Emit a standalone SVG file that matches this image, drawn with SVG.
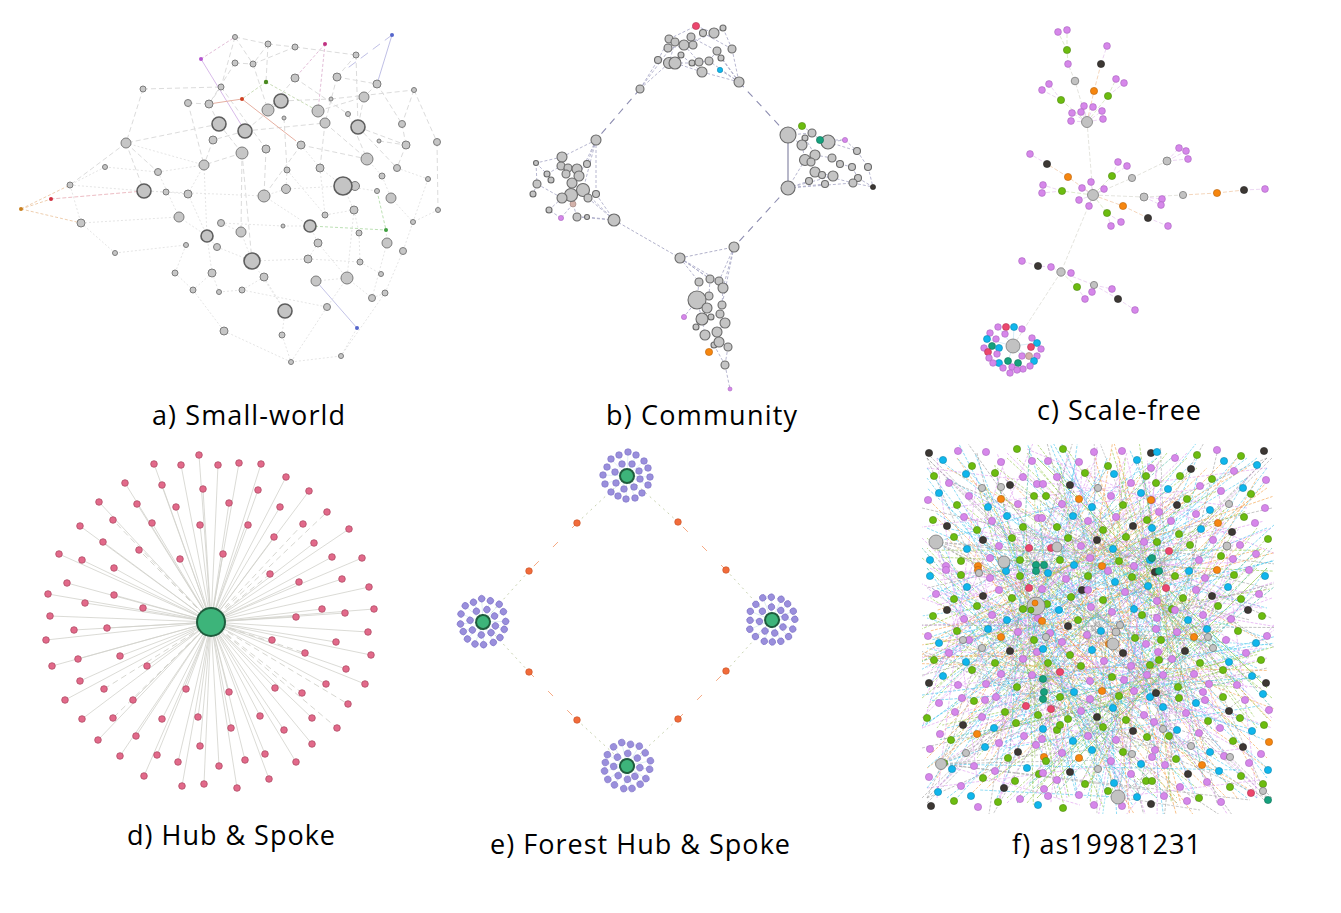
<svg xmlns="http://www.w3.org/2000/svg" xmlns:xlink="http://www.w3.org/1999/xlink" width="1341" height="913" viewBox="0 0 1341 913">
<style>
.lbl{font-family:"Open Sans","Liberation Sans",sans-serif;font-size:27px;fill:#000}
.an{fill:#c6c6c6;stroke:#7c7c7c;stroke-width:1}
.ab{fill:#c4c4c4;stroke:#5e5e5e;stroke-width:1.6}
.ae{fill:none;stroke:#dcdcdc;stroke-width:1;stroke-dasharray:5 3}
.ae2{fill:none;stroke:#e2e2e2;stroke-width:.9;stroke-dasharray:2 2}
.bn{fill:#c4c4c4;stroke:#6a6a6a;stroke-width:1.1}
.be{fill:none;stroke:#a4a4c4;stroke-width:.8;stroke-dasharray:3 2}
.bb{fill:none;stroke:#8c8cb0;stroke-width:1.1;stroke-dasharray:7 6}
.ce{fill:none;stroke-width:1;stroke-dasharray:4 2;stroke-opacity:.7}
.dn{fill:#e2698a;stroke:#b04c66;stroke-width:.8}
.de{fill:none;stroke:#d2d2cb;stroke-width:.8}
.de2{fill:none;stroke:#cbcbc4;stroke-width:.8;stroke-dasharray:6 4}
.hub{fill:#3db47a;stroke:#1f5c3d;stroke-width:2}
.sat{fill:#9a8fdc;stroke:#7b70c4;stroke-width:.6}
.on{fill:#f26b3a;stroke:#c24f24;stroke-width:.6}
.p{fill:#d687ea;stroke:#a866bd;stroke-width:.6}
.g{fill:#6cbc10;stroke:#4d880b;stroke-width:.6}
.c{fill:#10b6ec;stroke:#0c86ad;stroke-width:.6}
.k{fill:#3d3834;stroke:#222;stroke-width:.6}
.s{fill:#c2c2c2;stroke:#7a7a7a;stroke-width:.8}
.o{fill:#f6860f;stroke:#b8620a;stroke-width:.6}
.r{fill:#ec476e;stroke:#b03250;stroke-width:.6}
.t{fill:#16a17d;stroke:#0e6e55;stroke-width:.6}
.n{fill:#d3b2aa;stroke:#9a807a;stroke-width:.6}
.fe{fill:none;stroke-width:.7;stroke-dasharray:3 1.5;stroke-opacity:.8}
.ec{stroke:#3cc2ec}.ep{stroke:#dc94ee}.eo{stroke:#f49c40}.eg{stroke:#8cc63f}.ek{stroke:#9a9a9a}.et{stroke:#3cb39a}
</style>
<defs>
<clipPath id="fclip"><rect x="922" y="444" width="352" height="370"/></clipPath>
<g id="clu">
<path d="M0 0 23 1M0 0 21 9M0 0 15 17M0 0 8 22M0 0-1 23M0 0-9 20M0 0-16 16M0 0-22 8M0 0-24-1M0 0-20-9M0 0-16-17M0 0-8-21M0 0 1-24M0 0 9-21M0 0 17-15M0 0 21-8" fill="none" stroke="#cfe6ec" stroke-width=".6"/>
<circle class="sat" cx="23" cy="1" r="3.3"/><circle class="sat" cx="21" cy="9" r="3.3"/><circle class="sat" cx="15" cy="17" r="3.3"/><circle class="sat" cx="8" cy="22" r="3.3"/><circle class="sat" cx="-1" cy="23" r="3.3"/><circle class="sat" cx="-9" cy="20" r="3.3"/><circle class="sat" cx="-16" cy="16" r="3.3"/><circle class="sat" cx="-22" cy="8" r="3.3"/><circle class="sat" cx="-24" cy="-1" r="3.3"/><circle class="sat" cx="-20" cy="-9" r="3.3"/><circle class="sat" cx="-16" cy="-17" r="3.3"/><circle class="sat" cx="-8" cy="-21" r="3.3"/><circle class="sat" cx="1" cy="-24" r="3.3"/><circle class="sat" cx="9" cy="-21" r="3.3"/><circle class="sat" cx="17" cy="-15" r="3.3"/><circle class="sat" cx="21" cy="-8" r="3.3"/>
<circle class="sat" cx="13" cy="3" r="3.3"/><circle class="sat" cx="7" cy="11" r="3.3"/><circle class="sat" cx="-3" cy="13" r="3.3"/><circle class="sat" cx="-11" cy="7" r="3.3"/><circle class="sat" cx="-12" cy="-4" r="3.3"/><circle class="sat" cx="-5" cy="-12" r="3.3"/><circle class="sat" cx="5" cy="-12" r="3.3"/><circle class="sat" cx="12" cy="-5" r="3.3"/>
<circle class="hub" cx="0" cy="0" r="7"/>
</g>
<g id="fe">
<line class="fe ec" x1="-160" y1="-170" x2="120" y2="40"/><line class="fe ep" x1="-150" y1="-120" x2="170" y2="-160"/><line class="fe eg" x1="-170" y1="-60" x2="60" y2="170"/><line class="fe ek" x1="-120" y1="-175" x2="-40" y2="170"/><line class="fe eo" x1="-90" y1="-150" x2="160" y2="110"/><line class="fe ec" x1="-60" y1="-170" x2="150" y2="-20"/><line class="fe ep" x1="-165" y1="20" x2="165" y2="60"/><line class="fe eg" x1="-140" y1="100" x2="130" y2="-120"/><line class="fe ec" x1="-100" y1="170" x2="40" y2="-160"/><line class="fe ep" x1="-30" y1="-175" x2="100" y2="175"/><line class="fe eo" x1="10" y1="-160" x2="-160" y2="150"/><line class="fe ek" x1="40" y1="-130" x2="170" y2="170"/><line class="fe eg" x1="70" y1="-175" x2="-120" y2="60"/><line class="fe ec" x1="100" y1="-150" x2="20" y2="170"/><line class="fe ep" x1="130" y1="-100" x2="-170" y2="-30"/><line class="fe et" x1="165" y1="-40" x2="-80" y2="175"/><line class="fe ec" x1="150" y1="30" x2="-150" y2="-150"/><line class="fe ep" x1="120" y1="90" x2="-110" y2="120"/><line class="fe eg" x1="60" y1="160" x2="-170" y2="-90"/><line class="fe eo" x1="0" y1="-40" x2="170" y2="130"/><line class="fe ec" x1="-50" y1="40" x2="140" y2="-170"/><line class="fe ep" x1="-130" y1="-30" x2="40" y2="-120"/><line class="fe ek" x1="-80" y1="-100" x2="80" y2="90"/><line class="fe eg" x1="-20" y1="120" x2="170" y2="-80"/><line class="fe ec" x1="20" y1="40" x2="-150" y2="170"/><line class="fe ep" x1="90" y1="20" x2="-40" y2="-170"/><line class="fe eo" x1="-170" y1="140" x2="110" y2="-60"/><line class="fe ec" x1="-110" y1="-80" x2="170" y2="10"/><line class="fe eg" x1="-40" y1="-60" x2="-160" y2="100"/><line class="fe ep" x1="160" y1="160" x2="-60" y2="-40"/><line class="fe ek" x1="-170" y1="-170" x2="170" y2="175"/><line class="fe ep" x1="-150" y1="60" x2="90" y2="-175"/>
</g>
<g id="ft">
<circle class="k" cx="4" cy="6" r="3.6"/><circle class="c" cx="18" cy="13" r="3.6"/><circle class="p" cx="33" cy="4" r="3.6"/><circle class="g" cx="47" cy="19" r="3.6"/><circle class="p" cx="61" cy="5" r="3.6"/><circle class="p" cx="76" cy="15" r="3.6"/><circle class="g" cx="92" cy="2" r="3.6"/><circle class="p" cx="107" cy="14" r="3.6"/>
<circle class="g" cx="9" cy="29" r="3.6"/><circle class="p" cx="24" cy="36" r="3.6"/><circle class="c" cx="41" cy="27" r="3.6"/><circle class="s" cx="57" cy="41" r="3.6"/><circle class="g" cx="70" cy="26" r="3.6"/><circle class="k" cx="85" cy="38" r="3.6"/><circle class="p" cx="98" cy="30" r="3.6"/><circle class="p" cx="112" cy="37" r="3.6"/>
<circle class="p" cx="3" cy="53" r="3.6"/><circle class="c" cx="14" cy="46" r="3.6"/><circle class="g" cx="32" cy="58" r="3.6"/><circle class="p" cx="44" cy="49" r="3.6"/><circle class="c" cx="63" cy="60" r="3.6"/><circle class="o" cx="76" cy="52" r="3.6"/><circle class="p" cx="93" cy="57" r="3.6"/><circle class="g" cx="109" cy="49" r="3.6"/>
<circle class="g" cx="8" cy="73" r="3.6"/><circle class="k" cx="22" cy="79" r="3.6"/><circle class="p" cx="39" cy="70" r="3.6"/><circle class="g" cx="52" cy="83" r="3.6"/><circle class="p" cx="67" cy="74" r="3.6"/><circle class="c" cx="82" cy="69" r="3.6"/><circle class="g" cx="98" cy="80" r="3.6"/><circle class="p" cx="113" cy="71" r="3.6"/>
<circle class="p" cx="11" cy="95" r="3.6"/><circle class="g" cx="29" cy="90" r="3.6"/><circle class="c" cx="42" cy="102" r="3.6"/><circle class="k" cx="58" cy="93" r="3.6"/><circle class="p" cx="74" cy="99" r="3.6"/><circle class="g" cx="87" cy="91" r="3.6"/><circle class="r" cx="104" cy="101" r="3.6"/>
<circle class="c" cx="5" cy="113" r="3.6"/><circle class="p" cx="21" cy="119" r="3.6"/><circle class="g" cx="36" cy="114" r="3.6"/><circle class="o" cx="53" cy="119" r="3.6"/><circle class="p" cx="65" cy="111" r="3.6"/><circle class="c" cx="81" cy="118" r="3.6"/><circle class="g" cx="95" cy="113" r="3.6"/><circle class="t" cx="111" cy="118" r="3.6"/>
</g>
</defs>
<rect width="1341" height="913" fill="#ffffff"/>

<!-- Panel a: Small-world -->
<g id="connectors-a">
<path class="ae" d="M235 37 268 44M235 37 221 87M235 37 253 64M268 44 295 47M268 44 266 82M268 44 253 64M295 47 356 55M295 47 253 64M356 55 358 127M356 55 337 77M235 63 209 104M235 63 253 64M253 64 268 110M295 78 268 110M295 78 348 114M337 77 377 84M337 77 325 123M377 84 364 97M377 84 402 124M143 89 221 87M143 89 126 143M221 87 209 104M221 87 266 149M188 103 209 104M188 103 204 165M209 104 219 124M281 101 268 110M281 101 331 99M281 101 245 131M318 111 325 123M318 111 364 97M331 99 414 90M364 97 358 127M414 90 402 124M414 90 437 142M284 118 287 170M348 114 367 159M219 124 126 143M219 124 242 153M245 131 325 123M245 131 213 140M325 123 367 159M325 123 320 168M358 127 406 145M358 127 397 168M402 124 406 145M126 143 70 185M126 143 158 172M126 143 144 191M213 140 204 165M301 145 367 159M301 145 264 196M266 149 264 196M242 153 204 165M242 153 252 261M242 153 241 232M379 141 406 145M406 145 397 168M437 142 438 210"/>
<path class="ae2" d="M105 167 158 172M105 167 70 185M158 172 204 165M158 172 179 217M204 165 188 194M204 165 207 236M287 170 286 189M287 170 325 215M320 168 325 215M320 168 343 186M367 159 382 176M397 168 428 179M382 176 391 198M428 179 413 222M70 185 81 223M70 185 144 191M144 191 166 192M144 191 264 196M166 192 188 194M188 194 207 236M264 196 286 189M264 196 310 226M286 189 343 186M343 186 377 191M343 186 354 210M391 198 413 222M81 223 179 217M81 223 115 253M179 217 207 236M325 215 354 210M354 210 359 233M354 210 347 278M438 210 413 222M221 223 241 232M221 223 283 226M283 226 310 226M310 226 318 243M386 230 387 243M359 233 360 262M413 222 403 251M207 236 217 247M207 236 212 273M241 232 252 261M217 247 252 261M318 243 347 278M318 243 308 259M387 243 372 298M403 251 385 293M115 253 186 245M186 245 175 273M252 261 308 259M252 261 285 311M308 259 360 262M360 262 381 274M175 273 193 290M212 273 193 290M212 273 219 292M264 277 242 290M264 277 285 311M316 281 347 278M347 278 372 298M347 278 327 307M193 290 224 331M219 292 242 290M242 290 327 307M327 307 291 362M285 311 282 335M224 331 291 362M282 335 291 362M291 362 341 356M372 298 385 293M385 293 341 356M357 328 341 356M126 143 204 165M301 145 320 168"/>
<path d="M201 59 235 37M325 44 295 78M325 44 318 111" fill="none" stroke="#dfb6d2" stroke-width=".9" stroke-dasharray="3 2"/>
<path d="M201 59 245 131" fill="none" stroke="#d4b2e6" stroke-width=".9"/>
<path d="M392 35 377 84" fill="none" stroke="#b8b8e2" stroke-width=".9"/>
<path d="M392 35 345 70" fill="none" stroke="#b8b8e2" stroke-width=".9" stroke-dasharray="9 6"/>
<path d="M266 82 318 111M266 82 242 99" fill="none" stroke="#c4d8b0" stroke-width=".9" stroke-dasharray="3 2"/>
<path d="M242 99 209 104M242 99 296 141" fill="none" stroke="#e6b0a2" stroke-width="1"/>
<path d="M144 191 51 199" fill="none" stroke="#eab4bc" stroke-width=".9" stroke-dasharray="4 2"/>
<path d="M21 209 70 185M21 209 51 199M21 209 81 223" fill="none" stroke="#ecc8a6" stroke-width=".9" stroke-dasharray="3 2"/>
<path d="M377 191 386 230M310 226 386 230" fill="none" stroke="#b4dcac" stroke-width=".9" stroke-dasharray="3 2"/>
<path d="M316 281 357 328" fill="none" stroke="#bcbce4" stroke-width=".9"/>
</g>
<g id="nodes-a">
<circle class="an" cx="235" cy="37" r="2.5"/><circle cx="392" cy="35" r="2" fill="#5566cc"/><circle cx="201" cy="59" r="2" fill="#b455d0"/><circle cx="325" cy="44" r="2" fill="#c03080"/>
<circle class="an" cx="268" cy="44" r="3"/><circle class="an" cx="295" cy="47" r="3"/><circle class="an" cx="356" cy="55" r="3"/><circle class="an" cx="235" cy="63" r="3"/><circle class="an" cx="253" cy="64" r="3"/><circle cx="266" cy="82" r="2.2" fill="#4a8a20"/>
<circle class="an" cx="295" cy="78" r="4"/><circle class="an" cx="337" cy="77" r="4"/><circle class="an" cx="377" cy="84" r="4"/><circle class="an" cx="143" cy="89" r="3"/><circle class="an" cx="221" cy="87" r="3"/><circle cx="242" cy="99" r="2" fill="#d04020"/>
<circle class="an" cx="188" cy="103" r="3.5"/><circle class="an" cx="209" cy="104" r="4"/><circle class="ab" cx="281" cy="101" r="7"/><circle class="an" cx="268" cy="110" r="6"/><circle class="an" cx="318" cy="111" r="6"/><circle class="an" cx="331" cy="99" r="2"/><circle class="an" cx="364" cy="97" r="5"/><circle class="an" cx="414" cy="90" r="2.5"/><circle class="an" cx="284" cy="118" r="2"/><circle class="an" cx="348" cy="114" r="2.5"/>
<circle class="ab" cx="219" cy="124" r="7"/><circle class="ab" cx="245" cy="131" r="7"/><circle class="an" cx="325" cy="123" r="5"/><circle class="ab" cx="358" cy="127" r="7"/><circle class="an" cx="402" cy="124" r="3.5"/><circle class="an" cx="126" cy="143" r="5"/><circle class="an" cx="213" cy="140" r="4"/><circle class="an" cx="301" cy="145" r="4"/><circle class="an" cx="266" cy="149" r="4"/><circle class="an" cx="242" cy="153" r="6"/><circle class="an" cx="379" cy="141" r="2"/><circle class="an" cx="406" cy="145" r="4"/><circle class="an" cx="437" cy="142" r="3.5"/>
<circle class="an" cx="105" cy="167" r="2.5"/><circle class="an" cx="158" cy="172" r="3.5"/><circle class="an" cx="204" cy="165" r="5"/><circle class="an" cx="287" cy="170" r="3"/><circle class="an" cx="320" cy="168" r="4"/><circle class="an" cx="367" cy="159" r="6"/><circle class="an" cx="397" cy="168" r="3.5"/><circle class="an" cx="382" cy="176" r="3"/><circle class="an" cx="428" cy="179" r="2.5"/>
<circle class="an" cx="70" cy="185" r="3"/><circle class="ab" cx="144" cy="191" r="7"/><circle class="an" cx="166" cy="192" r="3"/><circle class="an" cx="188" cy="194" r="4"/><circle class="an" cx="264" cy="196" r="6"/><circle class="an" cx="286" cy="189" r="4.5"/><circle class="an" cx="355" cy="186" r="4.5"/><circle class="ab" cx="343" cy="186" r="9"/><circle class="an" cx="377" cy="191" r="2.5"/><circle class="an" cx="391" cy="198" r="5"/><circle cx="51" cy="199" r="2" fill="#d03040"/><circle cx="21" cy="209" r="2" fill="#c88020"/>
<circle class="an" cx="81" cy="223" r="4"/><circle class="an" cx="179" cy="217" r="5"/><circle class="an" cx="325" cy="215" r="3"/><circle class="an" cx="354" cy="210" r="4"/><circle class="an" cx="438" cy="210" r="2.5"/><circle class="an" cx="221" cy="223" r="3.5"/><circle class="an" cx="283" cy="226" r="2"/><circle class="ab" cx="310" cy="226" r="6"/><circle cx="386" cy="230" r="2" fill="#40a040"/><circle class="an" cx="359" cy="233" r="3"/><circle class="an" cx="413" cy="222" r="2.5"/>
<circle class="ab" cx="207" cy="236" r="6"/><circle class="an" cx="241" cy="232" r="5"/><circle class="an" cx="217" cy="247" r="3.5"/><circle class="an" cx="318" cy="243" r="4"/><circle class="an" cx="387" cy="243" r="5"/><circle class="an" cx="403" cy="251" r="3.5"/><circle class="an" cx="115" cy="253" r="2.5"/><circle class="an" cx="186" cy="245" r="2.5"/>
<circle class="ab" cx="252" cy="261" r="8"/><circle class="an" cx="308" cy="259" r="4"/><circle class="an" cx="360" cy="262" r="3"/><circle class="an" cx="175" cy="273" r="3"/><circle class="an" cx="212" cy="273" r="4"/><circle class="an" cx="264" cy="277" r="4"/><circle class="an" cx="316" cy="281" r="5"/><circle class="an" cx="347" cy="278" r="6"/><circle class="an" cx="381" cy="274" r="2.5"/>
<circle class="an" cx="193" cy="290" r="3"/><circle class="an" cx="219" cy="292" r="2.5"/><circle class="an" cx="242" cy="290" r="3"/><circle class="an" cx="372" cy="298" r="3.5"/><circle class="an" cx="385" cy="293" r="3"/><circle class="an" cx="327" cy="307" r="3.5"/><circle class="ab" cx="285" cy="311" r="7"/><circle cx="357" cy="328" r="2" fill="#5566cc"/><circle class="an" cx="224" cy="331" r="4"/><circle class="an" cx="282" cy="335" r="3"/><circle class="an" cx="341" cy="356" r="2.5"/><circle class="an" cx="291" cy="362" r="2.5"/>
</g>

<!-- Panel b: Community -->
<g id="connectors-b">
<path class="be" d="M640 89 658 60M640 89 669 63M640 89 675 42M658 60 669 39M669 39 696 26M696 26 714 33M714 33 723 28M723 28 732 49M732 49 739 82M739 82 721 58M739 82 702 72M739 82 709 61M739 82 717 51M702 72 675 63M675 63 692 63M692 63 709 61M709 61 717 51M684 45 714 33M684 45 699 62M668 48 693 45M681 55 702 72M720 70 739 82M703 33 732 49M691 37 717 51M675 42 669 63M669 39 668 48M723 28 714 33M658 60 675 63
M788 135 802 145M788 135 812 133M802 126 812 133M812 133 820 140M820 140 845 140M828 142 857 151M845 140 857 151M857 151 868 167M868 167 873 187M853 183 873 187M858 178 873 187M852 167 858 178M840 164 852 167M832 158 840 164M805 160 788 188M788 188 809 181M788 188 825 184M788 188 833 176M788 188 853 183M815 172 833 176M815 155 832 158M802 145 805 160M811 162 815 172M822 175 853 183M828 142 845 140M802 126 788 135M805 138 815 155
M596 140 562 157M596 140 587 164M596 140 583 190M596 140 579 176M562 157 536 163M536 163 537 184M537 184 533 194M536 163 547 174M547 174 551 180M561 166 568 168M568 168 577 169M577 169 579 176M579 176 572 183M572 183 583 190M583 190 588 198M571 195 562 198M571 195 573 204M573 204 561 218M561 218 549 210M573 204 577 217M577 217 587 217M587 217 614 220M577 217 614 220M596 194 614 220M583 190 614 220M588 198 614 220M562 198 549 210M547 174 561 166M537 184 562 198M596 140 596 194
M680 258 699 282M680 258 710 279M680 258 719 281M680 258 723 288M734 247 719 281M734 247 723 288M734 247 722 305M699 282 697 300M710 279 709 296M719 281 723 288M723 288 722 305M697 300 702 319M697 300 684 317M707 308 702 319M702 319 696 327M702 319 705 335M720 314 725 323M725 323 717 332M717 332 719 342M719 342 714 345M719 342 728 347M709 352 714 345M714 345 725 365M725 365 730 389M728 347 725 365M711 317 720 314"/>
<path class="bb" d="M640 89 596 140M739 82 788 135M788 188 734 247"/>
<path d="M614 220 680 258M680 258 734 247" fill="none" stroke="#a8a8c4" stroke-width=".9" stroke-dasharray="3 2"/>
<path d="M788 135 788 188" fill="none" stroke="#9a9ab4" stroke-width="1.4"/>
</g>
<g id="nodes-b">
<circle class="bn" cx="723" cy="28" r="3"/><circle class="bn" cx="703" cy="33" r="3.5"/><circle class="bn" cx="714" cy="33" r="5"/><circle class="bn" cx="669" cy="39" r="4"/><circle class="bn" cx="691" cy="37" r="4"/><circle class="bn" cx="675" cy="42" r="4"/><circle class="bn" cx="684" cy="45" r="5"/><circle class="bn" cx="693" cy="45" r="4"/><circle class="bn" cx="668" cy="48" r="4"/><circle class="bn" cx="717" cy="51" r="4"/><circle class="bn" cx="732" cy="49" r="4"/><circle class="bn" cx="681" cy="55" r="3"/><circle class="bn" cx="658" cy="60" r="3.5"/><circle class="bn" cx="669" cy="63" r="5.5"/><circle class="bn" cx="675" cy="63" r="6"/><circle class="bn" cx="692" cy="63" r="3"/><circle class="bn" cx="699" cy="62" r="4"/><circle class="bn" cx="709" cy="61" r="4"/><circle class="bn" cx="721" cy="58" r="3"/><circle class="c" cx="720" cy="70" r="2.7"/><circle class="bn" cx="702" cy="72" r="5"/><circle class="bn" cx="739" cy="82" r="5"/><circle class="bn" cx="640" cy="89" r="4"/><circle class="r" cx="696" cy="26" r="3.6"/>
<circle class="bn" cx="788" cy="135" r="8"/><circle class="g" cx="802" cy="126" r="3.6"/><circle class="bn" cx="812" cy="133" r="4"/><circle class="bn" cx="805" cy="138" r="3"/><circle class="bn" cx="802" cy="145" r="5"/><circle class="bn" cx="828" cy="142" r="7"/><circle class="t" cx="820" cy="140" r="3.6"/><circle class="p" cx="845" cy="140" r="2.6"/><circle class="bn" cx="857" cy="151" r="3.5"/><circle class="bn" cx="815" cy="155" r="5"/><circle class="bn" cx="805" cy="160" r="5.5"/><circle class="bn" cx="811" cy="162" r="4"/><circle class="bn" cx="832" cy="158" r="4"/><circle class="bn" cx="840" cy="164" r="3.5"/><circle class="bn" cx="852" cy="167" r="3.5"/><circle class="bn" cx="868" cy="167" r="3.5"/><circle class="bn" cx="815" cy="172" r="5"/><circle class="bn" cx="822" cy="175" r="3.5"/><circle class="bn" cx="833" cy="176" r="5"/><circle class="bn" cx="858" cy="178" r="3.5"/><circle class="bn" cx="809" cy="181" r="3.5"/><circle class="bn" cx="825" cy="184" r="3.5"/><circle class="bn" cx="853" cy="183" r="4"/><circle class="k" cx="873" cy="187" r="2.6"/><circle class="bn" cx="788" cy="188" r="7"/>
<circle class="bn" cx="596" cy="140" r="5"/><circle class="bn" cx="562" cy="157" r="5"/><circle class="bn" cx="536" cy="163" r="2.5"/><circle class="bn" cx="561" cy="166" r="4"/><circle class="bn" cx="568" cy="168" r="4"/><circle class="bn" cx="577" cy="169" r="5"/><circle class="bn" cx="587" cy="164" r="3.5"/><circle class="bn" cx="547" cy="174" r="3"/><circle class="bn" cx="551" cy="180" r="3"/><circle class="bn" cx="566" cy="174" r="4"/><circle class="bn" cx="579" cy="176" r="5"/><circle class="bn" cx="572" cy="183" r="5"/><circle class="bn" cx="537" cy="184" r="4"/><circle class="n" cx="573" cy="204" r="3"/><circle class="bn" cx="583" cy="190" r="6.5"/><circle class="bn" cx="571" cy="195" r="6.5"/><circle class="bn" cx="562" cy="198" r="5"/><circle class="bn" cx="588" cy="198" r="4"/><circle class="bn" cx="596" cy="194" r="3.5"/><circle class="bn" cx="533" cy="194" r="3"/><circle class="bn" cx="549" cy="210" r="3"/><circle class="p" cx="561" cy="218" r="2.6"/><circle class="bn" cx="577" cy="217" r="4"/><circle class="bn" cx="587" cy="217" r="2.5"/><circle class="bn" cx="614" cy="220" r="6"/>
<circle class="bn" cx="680" cy="258" r="5"/><circle class="bn" cx="734" cy="247" r="5"/><circle class="bn" cx="699" cy="282" r="4"/><circle class="bn" cx="710" cy="279" r="4"/><circle class="bn" cx="719" cy="281" r="4"/><circle class="bn" cx="723" cy="288" r="5"/><circle class="bn" cx="709" cy="296" r="4"/><circle class="bn" cx="697" cy="300" r="9"/><circle class="bn" cx="722" cy="305" r="4"/><circle class="bn" cx="707" cy="308" r="5"/><circle class="bn" cx="720" cy="314" r="4"/><circle class="p" cx="684" cy="317" r="2.6"/><circle class="bn" cx="711" cy="317" r="3"/><circle class="bn" cx="702" cy="319" r="6"/><circle class="bn" cx="725" cy="323" r="5"/><circle class="bn" cx="696" cy="327" r="3"/><circle class="bn" cx="705" cy="335" r="5"/><circle class="bn" cx="717" cy="332" r="5"/><circle class="bn" cx="714" cy="345" r="3"/><circle class="bn" cx="719" cy="342" r="5"/><circle class="bn" cx="728" cy="347" r="4"/><circle class="o" cx="709" cy="352" r="3.6"/><circle class="bn" cx="725" cy="365" r="4"/><circle class="p" cx="730" cy="389" r="2"/>
</g>

<!-- Panel c: Scale-free -->
<g id="connectors-c">
<path class="ce" stroke="#d8d8d0" d="M1087 122 1093 195M1093 195 1061 272M1061 272 1013 346M1087 122 1075 81M1075 81 1068 64M1093 195 1132 178M1132 178 1167 161M1093 195 1144 197M1144 197 1183 195"/>
<path class="ce" stroke="#cfe0b8" d="M1068 64 1067 50M1067 50 1058 32M1067 50 1067 30M1087 122 1061 100M1087 122 1108 96M1093 195 1062 191M1093 195 1112 176M1093 195 1107 213M1061 272 1077 287M1108 96 1116 79"/>
<path class="ce" stroke="#f0c4a0" d="M1087 122 1094 91M1094 91 1101 64M1093 195 1068 177M1068 177 1047 164M1093 195 1123 206M1123 206 1148 218M1183 195 1217 193M1217 193 1244 190"/>
<path class="ce" stroke="#e4c4ee" d="M1101 64 1107 46M1108 96 1124 83M1061 100 1049 84M1061 100 1042 90M1087 122 1084 106M1087 122 1093 107M1087 122 1072 113M1087 122 1081 112M1087 122 1102 111M1087 122 1071 121M1087 122 1103 119M1047 164 1030 154M1062 191 1043 185M1062 191 1042 193M1093 195 1082 188M1093 195 1091 182M1093 195 1104 189M1093 195 1079 200M1093 195 1089 206M1112 176 1118 162M1112 176 1127 166M1167 161 1179 148M1167 161 1186 151M1167 161 1188 159M1144 197 1162 199M1144 197 1161 205M1244 190 1265 189M1148 218 1168 226M1107 213 1111 226M1107 213 1121 222M1061 272 1051 267M1051 267 1038 266M1038 266 1022 261M1061 272 1071 273M1061 272 1094 285M1094 285 1118 299M1118 299 1135 310M1077 287 1085 299M1094 285 1092 292M1094 285 1112 289"/>
<path d="M1013 346 998 327M1013 346 1014 327M1013 346 987 339M1013 346 1037 343M1013 346 1022 356M1013 346 1008 361M1013 346 1029 356" fill="none" stroke="#cfe8f4" stroke-width=".8"/>
</g>
<g id="nodes-c">
<circle class="p" cx="1058" cy="32" r="3.4"/><circle class="p" cx="1067" cy="30" r="3.4"/><circle class="g" cx="1067" cy="50" r="3.6"/><circle class="p" cx="1107" cy="46" r="3.4"/><circle class="k" cx="1101" cy="64" r="3.6"/><circle class="p" cx="1068" cy="64" r="3.4"/><circle class="s" cx="1075" cy="81" r="3.8"/><circle class="p" cx="1116" cy="79" r="3.4"/><circle class="p" cx="1124" cy="83" r="3.4"/><circle class="o" cx="1094" cy="91" r="3.6"/><circle class="p" cx="1049" cy="84" r="3.4"/><circle class="p" cx="1042" cy="90" r="3.4"/><circle class="g" cx="1108" cy="96" r="3.6"/><circle class="g" cx="1061" cy="100" r="3.6"/><circle class="p" cx="1084" cy="106" r="3.4"/><circle class="p" cx="1093" cy="107" r="3.4"/><circle class="p" cx="1072" cy="113" r="3.4"/><circle class="p" cx="1081" cy="112" r="3.4"/><circle class="p" cx="1102" cy="111" r="3.4"/><circle class="p" cx="1071" cy="121" r="3.4"/><circle class="p" cx="1103" cy="119" r="3.4"/><circle class="s" cx="1087" cy="122" r="5.5"/>
<circle class="p" cx="1030" cy="154" r="3.4"/><circle class="k" cx="1047" cy="164" r="3.6"/><circle class="o" cx="1068" cy="177" r="3.6"/><circle class="p" cx="1043" cy="185" r="3.4"/><circle class="p" cx="1042" cy="193" r="3.4"/><circle class="g" cx="1062" cy="191" r="3.6"/><circle class="p" cx="1082" cy="188" r="3.4"/><circle class="p" cx="1091" cy="182" r="3.4"/><circle class="p" cx="1104" cy="189" r="3.4"/><circle class="p" cx="1079" cy="200" r="3.4"/><circle class="p" cx="1089" cy="206" r="3.4"/><circle class="s" cx="1093" cy="195" r="5.5"/><circle class="p" cx="1118" cy="162" r="3.4"/><circle class="p" cx="1127" cy="166" r="3.4"/><circle class="g" cx="1112" cy="176" r="3.6"/><circle class="s" cx="1132" cy="178" r="3.6"/><circle class="s" cx="1167" cy="161" r="4"/><circle class="p" cx="1179" cy="148" r="3.4"/><circle class="p" cx="1186" cy="151" r="3.4"/><circle class="p" cx="1188" cy="159" r="3.4"/><circle class="s" cx="1144" cy="197" r="4"/><circle class="p" cx="1162" cy="199" r="3.4"/><circle class="p" cx="1161" cy="205" r="3.4"/><circle class="s" cx="1183" cy="195" r="3.6"/><circle class="o" cx="1217" cy="193" r="3.6"/><circle class="k" cx="1244" cy="190" r="3.6"/><circle class="p" cx="1265" cy="189" r="3.4"/><circle class="o" cx="1123" cy="206" r="3.6"/><circle class="g" cx="1107" cy="213" r="3.6"/><circle class="k" cx="1148" cy="218" r="3.6"/><circle class="p" cx="1168" cy="226" r="3.4"/><circle class="p" cx="1111" cy="226" r="3.4"/><circle class="p" cx="1121" cy="222" r="3.4"/>
<circle class="p" cx="1022" cy="261" r="3.4"/><circle class="k" cx="1038" cy="266" r="3.6"/><circle class="p" cx="1051" cy="267" r="3.4"/><circle class="s" cx="1061" cy="272" r="4.2"/><circle class="p" cx="1071" cy="273" r="3.4"/><circle class="g" cx="1077" cy="287" r="3.6"/><circle class="s" cx="1094" cy="285" r="3.6"/><circle class="p" cx="1092" cy="292" r="3.4"/><circle class="p" cx="1085" cy="299" r="3.4"/><circle class="p" cx="1112" cy="289" r="3.4"/><circle class="k" cx="1118" cy="299" r="3.6"/><circle class="p" cx="1135" cy="310" r="3.4"/>
<circle class="p" cx="998" cy="327" r="3.3"/><circle class="r" cx="1006" cy="327" r="3.5"/><circle class="c" cx="1014" cy="327" r="3.5"/><circle class="p" cx="1022" cy="329" r="3.3"/><circle class="p" cx="990" cy="333" r="3.3"/><circle class="p" cx="1005" cy="334" r="3.3"/><circle class="c" cx="987" cy="339" r="3.5"/><circle class="p" cx="996" cy="339" r="3.3"/><circle class="t" cx="992" cy="346" r="3.5"/><circle class="c" cx="999" cy="348" r="3.5"/><circle class="p" cx="984" cy="348" r="3.3"/><circle class="r" cx="988" cy="352" r="3.5"/><circle class="p" cx="1032" cy="338" r="3.3"/><circle class="c" cx="1037" cy="343" r="3.5"/><circle class="r" cx="1031" cy="347" r="3.5"/><circle class="p" cx="1041" cy="349" r="3.3"/><circle class="p" cx="997" cy="354" r="3.3"/><circle class="p" cx="1022" cy="356" r="3.3"/><circle class="n" cx="1029" cy="356" r="3.5"/><circle class="p" cx="1037" cy="356" r="3.3"/><circle class="p" cx="989" cy="358" r="3.3"/><circle class="c" cx="1034" cy="361" r="3.5"/><circle class="c" cx="999" cy="363" r="3.5"/><circle class="t" cx="1008" cy="361" r="3.5"/><circle class="t" cx="1018" cy="363" r="3.5"/><circle class="p" cx="993" cy="363" r="3.3"/><circle class="p" cx="1030" cy="366" r="3.3"/><circle class="p" cx="1003" cy="368" r="3.3"/><circle class="p" cx="1012" cy="367" r="3.3"/><circle class="p" cx="1023" cy="369" r="3.3"/><circle class="p" cx="1017" cy="370" r="3.3"/><circle class="p" cx="1010" cy="373" r="3.3"/>
<circle class="s" cx="1013" cy="346" r="7" stroke-width="1.2"/>
</g>

<!-- Panel d: Hub & Spoke -->
<g id="connectors-d">
<path class="de" d="M211 622 199 455M211 622 154 464M211 622 181 465M211 622 218 465M211 622 239 463M211 622 261 464M211 622 286 477M211 622 125 483M211 622 162 485M211 622 203 489M211 622 258 490M211 622 309 491M211 622 99 502M211 622 229 503M211 622 137 504M211 622 176 507M211 622 280 507M211 622 152 523M211 622 200 525M211 622 248 525M211 622 80 526M211 622 349 529M211 622 274 537M211 622 103 542M211 622 314 543M211 622 59 554M211 622 223 554M211 622 82 560M211 622 180 559M211 622 332 557M211 622 362 558M211 622 114 568M211 622 67 583M211 622 299 582M211 622 342 579M211 622 369 587M211 622 48 594M211 622 114 595M211 622 85 603M211 622 143 608M211 622 322 609M211 622 345 613M211 622 374 609M211 622 50 616M211 622 296 617M211 622 74 630M211 622 107 628M211 622 46 640M211 622 272 640M211 622 336 642M211 622 368 632M211 622 371 655M211 622 78 659M211 622 120 656M211 622 147 666M211 622 52 666M211 622 346 669M211 622 80 681M211 622 186 689M211 622 229 692M211 622 275 688M211 622 326 684M211 622 365 684M211 622 65 700M211 622 133 700M211 622 82 719M211 622 162 719M211 622 198 717M211 622 260 716M211 622 312 718M211 622 231 728M211 622 284 730M211 622 98 740M211 622 136 736M211 622 200 746M211 622 265 754M211 622 312 744M211 622 120 756M211 622 157 755M211 622 178 762M211 622 245 760M211 622 296 762M211 622 219 766M211 622 144 776M211 622 182 786M211 622 204 784M211 622 237 788M211 622 269 779"/>
<path class="de2" d="M211 622 113 520M211 622 327 512M211 622 303 524M211 622 270 574M211 622 139 550M211 622 305 653M211 622 104 689M211 622 302 693M211 622 348 704M211 622 113 718M211 622 337 728"/>
</g>
<g id="nodes-d">
<circle class="dn" cx="199" cy="455" r="3.3"/><circle class="dn" cx="154" cy="464" r="3.3"/><circle class="dn" cx="181" cy="465" r="3.3"/><circle class="dn" cx="218" cy="465" r="3.3"/><circle class="dn" cx="239" cy="463" r="3.3"/><circle class="dn" cx="261" cy="464" r="3.3"/><circle class="dn" cx="286" cy="477" r="3.3"/><circle class="dn" cx="125" cy="483" r="3.3"/><circle class="dn" cx="162" cy="485" r="3.3"/><circle class="dn" cx="203" cy="489" r="3.3"/><circle class="dn" cx="258" cy="490" r="3.3"/><circle class="dn" cx="309" cy="491" r="3.3"/><circle class="dn" cx="99" cy="502" r="3.3"/><circle class="dn" cx="229" cy="503" r="3.3"/><circle class="dn" cx="137" cy="504" r="3.3"/><circle class="dn" cx="176" cy="507" r="3.3"/><circle class="dn" cx="280" cy="507" r="3.3"/><circle class="dn" cx="327" cy="512" r="3.3"/><circle class="dn" cx="113" cy="520" r="3.3"/><circle class="dn" cx="152" cy="523" r="3.3"/><circle class="dn" cx="200" cy="525" r="3.3"/><circle class="dn" cx="248" cy="525" r="3.3"/><circle class="dn" cx="303" cy="524" r="3.3"/><circle class="dn" cx="80" cy="526" r="3.3"/><circle class="dn" cx="349" cy="529" r="3.3"/><circle class="dn" cx="274" cy="537" r="3.3"/><circle class="dn" cx="103" cy="542" r="3.3"/><circle class="dn" cx="314" cy="543" r="3.3"/><circle class="dn" cx="139" cy="550" r="3.3"/><circle class="dn" cx="59" cy="554" r="3.3"/><circle class="dn" cx="223" cy="554" r="3.3"/><circle class="dn" cx="82" cy="560" r="3.3"/><circle class="dn" cx="180" cy="559" r="3.3"/><circle class="dn" cx="332" cy="557" r="3.3"/><circle class="dn" cx="362" cy="558" r="3.3"/><circle class="dn" cx="114" cy="568" r="3.3"/><circle class="dn" cx="270" cy="574" r="3.3"/><circle class="dn" cx="67" cy="583" r="3.3"/><circle class="dn" cx="299" cy="582" r="3.3"/><circle class="dn" cx="342" cy="579" r="3.3"/><circle class="dn" cx="369" cy="587" r="3.3"/><circle class="dn" cx="48" cy="594" r="3.3"/><circle class="dn" cx="114" cy="595" r="3.3"/><circle class="dn" cx="85" cy="603" r="3.3"/><circle class="dn" cx="143" cy="608" r="3.3"/><circle class="dn" cx="322" cy="609" r="3.3"/><circle class="dn" cx="345" cy="613" r="3.3"/><circle class="dn" cx="374" cy="609" r="3.3"/><circle class="dn" cx="50" cy="616" r="3.3"/><circle class="dn" cx="296" cy="617" r="3.3"/><circle class="dn" cx="74" cy="630" r="3.3"/><circle class="dn" cx="107" cy="628" r="3.3"/><circle class="dn" cx="46" cy="640" r="3.3"/><circle class="dn" cx="272" cy="640" r="3.3"/><circle class="dn" cx="336" cy="642" r="3.3"/><circle class="dn" cx="368" cy="632" r="3.3"/><circle class="dn" cx="371" cy="655" r="3.3"/><circle class="dn" cx="305" cy="653" r="3.3"/><circle class="dn" cx="78" cy="659" r="3.3"/><circle class="dn" cx="120" cy="656" r="3.3"/><circle class="dn" cx="147" cy="666" r="3.3"/><circle class="dn" cx="52" cy="666" r="3.3"/><circle class="dn" cx="346" cy="669" r="3.3"/><circle class="dn" cx="80" cy="681" r="3.3"/><circle class="dn" cx="104" cy="689" r="3.3"/><circle class="dn" cx="186" cy="689" r="3.3"/><circle class="dn" cx="229" cy="692" r="3.3"/><circle class="dn" cx="275" cy="688" r="3.3"/><circle class="dn" cx="326" cy="684" r="3.3"/><circle class="dn" cx="365" cy="684" r="3.3"/><circle class="dn" cx="65" cy="700" r="3.3"/><circle class="dn" cx="133" cy="700" r="3.3"/><circle class="dn" cx="302" cy="693" r="3.3"/><circle class="dn" cx="348" cy="704" r="3.3"/><circle class="dn" cx="82" cy="719" r="3.3"/><circle class="dn" cx="113" cy="718" r="3.3"/><circle class="dn" cx="162" cy="719" r="3.3"/><circle class="dn" cx="198" cy="717" r="3.3"/><circle class="dn" cx="260" cy="716" r="3.3"/><circle class="dn" cx="312" cy="718" r="3.3"/><circle class="dn" cx="231" cy="728" r="3.3"/><circle class="dn" cx="284" cy="730" r="3.3"/><circle class="dn" cx="337" cy="728" r="3.3"/><circle class="dn" cx="98" cy="740" r="3.3"/><circle class="dn" cx="136" cy="736" r="3.3"/><circle class="dn" cx="200" cy="746" r="3.3"/><circle class="dn" cx="265" cy="754" r="3.3"/><circle class="dn" cx="312" cy="744" r="3.3"/><circle class="dn" cx="120" cy="756" r="3.3"/><circle class="dn" cx="157" cy="755" r="3.3"/><circle class="dn" cx="178" cy="762" r="3.3"/><circle class="dn" cx="245" cy="760" r="3.3"/><circle class="dn" cx="296" cy="762" r="3.3"/><circle class="dn" cx="219" cy="766" r="3.3"/><circle class="dn" cx="144" cy="776" r="3.3"/><circle class="dn" cx="182" cy="786" r="3.3"/><circle class="dn" cx="204" cy="784" r="3.3"/><circle class="dn" cx="237" cy="788" r="3.3"/><circle class="dn" cx="269" cy="779" r="3.3"/>
</g>
<g id="hub-d"><circle class="hub" cx="211" cy="622" r="14" stroke-width="2.5"/></g>

<!-- Panel e: Forest Hub & Spoke -->
<g id="connectors-e">
<path d="M627 476 577 523M529 571 483 622M483 622 529 672M577 720 627 766M627 766 678 719M726 671 772 620M772 620 726 570M678 522 627 476" fill="none" stroke="#c8d2b0" stroke-width="1" stroke-dasharray="2 4"/>
<path d="M577 523 529 571M529 672 577 720M678 719 726 671M726 570 678 522" fill="none" stroke="#f6a882" stroke-width="1" stroke-dasharray="7 20"/>
</g>
<g id="nodes-e">
<circle class="on" cx="577" cy="523" r="3.3"/><circle class="on" cx="678" cy="522" r="3.3"/><circle class="on" cx="529" cy="571" r="3.3"/><circle class="on" cx="726" cy="570" r="3.3"/><circle class="on" cx="529" cy="672" r="3.3"/><circle class="on" cx="726" cy="671" r="3.3"/><circle class="on" cx="577" cy="720" r="3.3"/><circle class="on" cx="678" cy="719" r="3.3"/>
</g>
<g id="cluster-e1"><use xlink:href="#clu" transform="translate(627,476)"/></g>
<g id="cluster-e2"><use xlink:href="#clu" transform="translate(483,622) rotate(40)"/></g>
<g id="cluster-e3"><use xlink:href="#clu" transform="translate(772,620) rotate(-25)"/></g>
<g id="cluster-e4"><use xlink:href="#clu" transform="translate(627,766) rotate(75)"/></g>

<!-- Panel f: as19981231 -->
<g id="connectors-f" clip-path="url(#fclip)">
<use xlink:href="#fe" transform="translate(1097,628)"/>
<use xlink:href="#fe" transform="translate(1097,628) rotate(90)"/>
<use xlink:href="#fe" transform="translate(1097,628) rotate(180)"/>
<use xlink:href="#fe" transform="translate(1097,628) rotate(270)"/>
<use xlink:href="#fe" transform="translate(1097,628) scale(-1,1)"/>
<use xlink:href="#fe" transform="translate(1097,628) scale(1,-1) rotate(45) scale(.8)"/>
<use xlink:href="#fe" transform="translate(1097,628) rotate(30)"/>
<use xlink:href="#fe" transform="translate(1097,628) rotate(-60) scale(.95)"/>
<use xlink:href="#fe" transform="translate(1097,628) rotate(135)"/>
<use xlink:href="#fe" transform="translate(1097,628) scale(-1,1) rotate(90)"/>
<use xlink:href="#fe" transform="translate(1097,628) scale(-1,1) rotate(15) scale(.9)"/>
<use xlink:href="#fe" transform="translate(1097,628) scale(1,-1) rotate(-100)"/>
<path class="fe ek" d="M941 764 1060 700M941 764 1100 760M941 764 1150 790M941 764 1200 740M941 764 1250 800M941 764 1030 650M941 764 1120 690M941 764 990 620M936 542 1040 600M936 542 1100 560M936 542 1150 640M936 542 1200 700M936 542 1250 620M936 542 1180 560M1118 797 1060 650M1118 797 1150 600M1118 797 1240 700M1118 797 1200 810"/>
<path class="fe ec" d="M941 764 1180 680M941 764 1240 770M936 542 1000 700M936 542 1080 500M1118 797 1000 700M1118 797 980 790M1036 606 1100 470M1036 606 1240 650M1036 606 930 700"/>
<path class="fe ep" d="M941 764 1080 805M941 764 1010 720M936 542 1020 760M936 542 960 650M1118 797 1100 700M1118 797 1260 780M1036 606 960 500M1036 606 1200 520M1036 606 1150 720M1036 606 1000 800M1036 606 1060 760"/>
</g>
<g id="nodes-f">
<use xlink:href="#ft" transform="translate(925,447)"/>
<use xlink:href="#ft" transform="translate(1155,447) scale(-1,1)"/>
<use xlink:href="#ft" transform="translate(1270,447) rotate(90)"/>
<use xlink:href="#ft" transform="translate(925,689) scale(1,-1)"/>
<use xlink:href="#ft" transform="translate(1161,568) rotate(90)"/>
<use xlink:href="#ft" transform="translate(1270,689) rotate(180)"/>
<use xlink:href="#ft" transform="translate(925,810) rotate(-90)"/>
<use xlink:href="#ft" transform="translate(1155,810) scale(-1,-1)"/>
<use xlink:href="#ft" transform="matrix(0,1,1,0,1150,689)"/>
<circle class="s" cx="1004" cy="562" r="6"/><circle class="s" cx="1057" cy="547" r="5"/><circle class="s" cx="1113" cy="644" r="6"/><circle class="s" cx="1116" cy="632" r="4"/><circle class="s" cx="1227" cy="546" r="4"/><circle class="s" cx="1001" cy="487" r="3.6"/><circle class="s" cx="963" cy="640" r="3.6"/><circle class="s" cx="1163" cy="729" r="3.6"/><circle class="s" cx="1132" cy="754" r="3.6"/><circle class="s" cx="1230" cy="757" r="3.6"/><circle class="s" cx="1263" cy="791" r="3.6"/><circle class="s" cx="979" cy="573" r="3.6"/><circle class="s" cx="1046" cy="637" r="3.6"/><circle class="s" cx="1208" cy="637" r="3.6"/>
<circle class="p" cx="1088" cy="590" r="3.6"/><circle class="p" cx="1175" cy="610" r="3.6"/><circle class="g" cx="1150" cy="665" r="3.6"/><circle class="p" cx="985" cy="700" r="3.6"/><circle class="g" cx="1060" cy="725" r="3.6"/><circle class="p" cx="1205" cy="700" r="3.6"/>
<circle class="s" cx="936" cy="542" r="7" stroke-width="1.2"/><circle class="s" cx="941" cy="764" r="5.5" stroke-width="1.2"/><circle class="s" cx="1118" cy="797" r="7" stroke-width="1.2"/>
<circle class="s" cx="1036" cy="606" r="9" stroke-width="1.4"/><circle class="o" cx="1035" cy="603" r="3"/><circle class="g" cx="1031" cy="610" r="3"/>
</g>

<g id="labels">
<text class="lbl" x="152" y="425" textLength="193">a) Small-world</text>
<text class="lbl" x="606" y="425" textLength="191">b) Community</text>
<text class="lbl" x="1037" y="420" textLength="164">c) Scale-free</text>
<text class="lbl" x="127" y="845" textLength="208">d) Hub &amp; Spoke</text>
<text class="lbl" x="490" y="854" textLength="300">e) Forest Hub &amp; Spoke</text>
<text class="lbl" x="1012" y="854" textLength="189">f) as19981231</text>
</g>
</svg>
